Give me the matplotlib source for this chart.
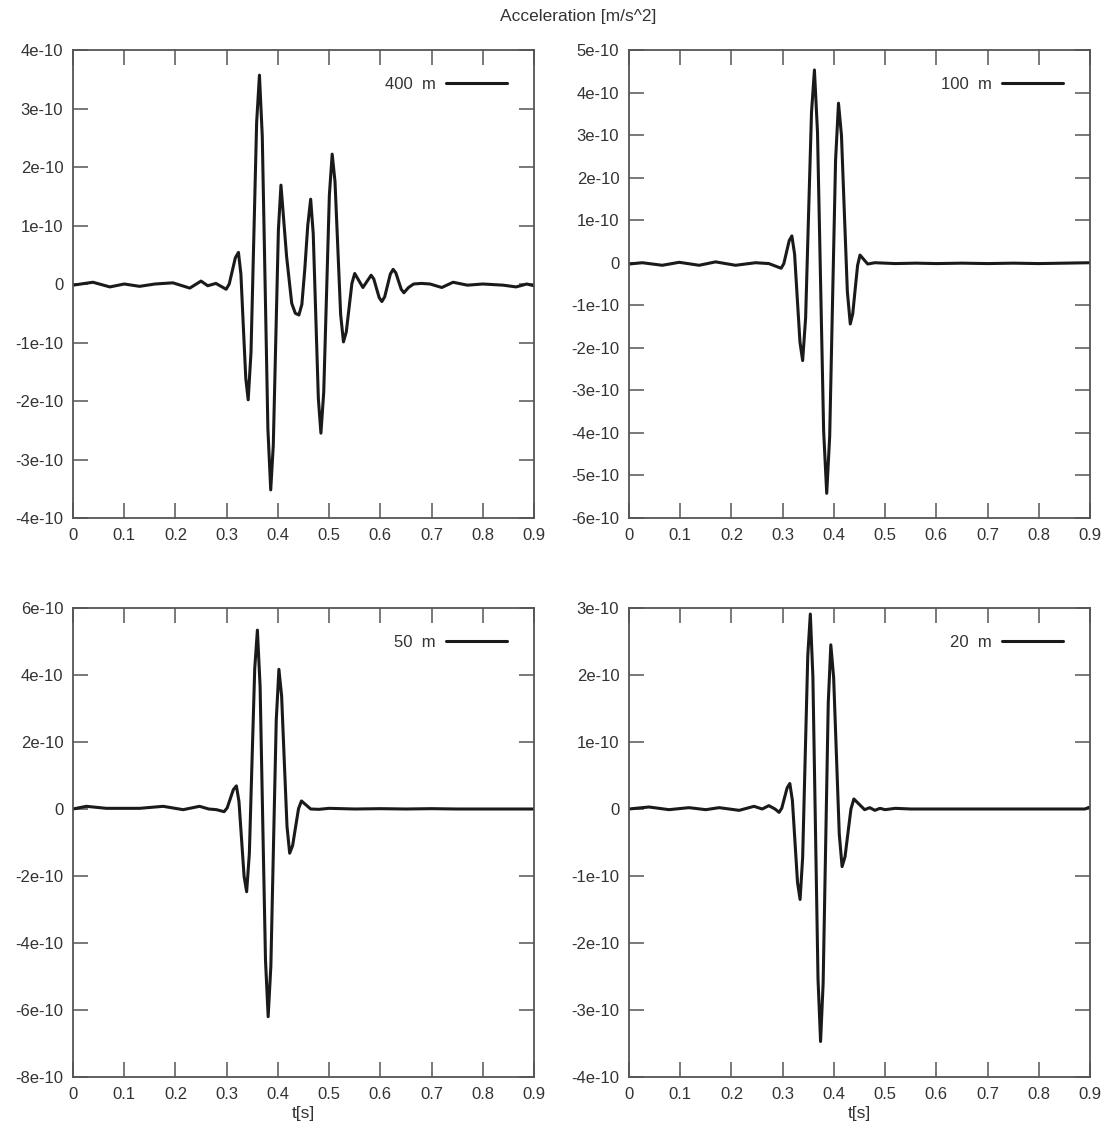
import matplotlib
matplotlib.use("Agg")
import matplotlib.pyplot as plt
from matplotlib.ticker import FuncFormatter, MultipleLocator

plt.rcParams['font.family'] = ['Liberation Sans', 'DejaVu Sans']

# time [s] and acceleration [1e-10 m/s^2] for each receiver depth
t_400 = [0.0, 0.039, 0.072, 0.10, 0.13, 0.16, 0.195, 0.228, 0.25, 0.263, 0.279, 0.299,
         0.305, 0.311, 0.317, 0.323, 0.3278, 0.3325, 0.3373, 0.342, 0.3475, 0.353, 0.3585,
         0.364, 0.3695, 0.375, 0.3805, 0.386, 0.391, 0.396, 0.401, 0.406, 0.417, 0.427,
         0.434, 0.441, 0.4468, 0.4525, 0.4583, 0.464, 0.469, 0.474, 0.479, 0.484, 0.4895,
         0.495, 0.5005, 0.506, 0.5115, 0.517, 0.5225, 0.528, 0.5335, 0.539, 0.5445, 0.55,
         0.558, 0.566, 0.574, 0.582, 0.5873, 0.5925, 0.5978, 0.603, 0.6085, 0.614, 0.6195,
         0.625, 0.6303, 0.6355, 0.6408, 0.646, 0.655, 0.665, 0.68, 0.697, 0.72, 0.742,
         0.77, 0.80, 0.84, 0.865, 0.886, 0.9]
a_400 = [-0.02, 0.03, -0.05, 0.0, -0.04, 0.0, 0.02, -0.07, 0.05, -0.03, 0.01, -0.09,
         0.0, 0.225, 0.45, 0.54, 0.17, -0.72, -1.61, -1.98, -1.17, 0.795, 2.76,
         3.57, 2.53, 0.025, -2.48, -3.52, -2.76, -0.915, 0.93, 1.69, 0.47, -0.33,
         -0.50, -0.53, -0.35, 0.25, 1.0, 1.45, 0.86, -0.55, -1.96, -2.55, -1.85,
         -0.165, 1.52, 2.22, 1.75, 0.615, -0.52, -0.99, -0.82, -0.405, 0.01, 0.18,
         0.06, -0.06, 0.045, 0.15, 0.084, -0.075, -0.234, -0.30, -0.22, -0.025, 0.17,
         0.25, 0.19, 0.05, -0.09, -0.15, -0.06, 0.0, 0.01, 0.0, -0.06, 0.03,
         -0.02, 0.0, -0.02, -0.05, 0.0, -0.03]

t_100 = [0.0, 0.026, 0.065, 0.098, 0.137, 0.169, 0.208, 0.247, 0.273, 0.297,
         0.3023, 0.3075, 0.3128, 0.318, 0.3233, 0.3285, 0.3338, 0.339, 0.3448, 0.3505,
         0.3563, 0.362, 0.368, 0.374, 0.38, 0.386, 0.3918, 0.3975, 0.4033, 0.409,
         0.4148, 0.4205, 0.4263, 0.432, 0.4368, 0.4415, 0.4463, 0.451, 0.4585, 0.466,
         0.48, 0.52, 0.56, 0.60, 0.65, 0.70, 0.75, 0.80, 0.85, 0.9]
a_100 = [-0.03, 0.0, -0.06, 0.01, -0.06, 0.02, -0.06, 0.0, -0.02, -0.13,
         -0.02, 0.25, 0.52, 0.63, 0.20, -0.835, -1.87, -2.30, -1.30, 1.115,
         3.53, 4.53, 3.07, -0.445, -3.96, -5.42, -4.08, -0.835, 2.41, 3.75,
         2.99, 1.155, -0.68, -1.44, -1.20, -0.63, -0.06, 0.18, 0.075, -0.03,
         0.0, -0.02, -0.01, -0.02, -0.01, -0.02, -0.01, -0.02, -0.01, 0.0]

t_50 = [0.0, 0.026, 0.065, 0.13, 0.176, 0.215, 0.247, 0.265, 0.28, 0.295,
        0.301, 0.307, 0.313, 0.319, 0.324, 0.329, 0.334, 0.339, 0.3443, 0.3495,
        0.3548, 0.36, 0.3653, 0.3705, 0.3758, 0.381, 0.3863, 0.3915, 0.3968, 0.402,
        0.4073, 0.4125, 0.4178, 0.423, 0.4288, 0.4345, 0.4403, 0.446, 0.455, 0.464,
        0.48, 0.50, 0.55, 0.60, 0.65, 0.70, 0.75, 0.80, 0.85, 0.9]
a_50 = [0.0, 0.08, 0.02, 0.02, 0.08, -0.02, 0.08, 0.0, -0.02, -0.08,
        0.033, 0.305, 0.577, 0.69, 0.227, -0.89, -2.007, -2.47, -1.326, 1.435,
        4.196, 5.34, 3.65, -0.43, -4.51, -6.2, -4.68, -1.015, 2.65, 4.17,
        3.37, 1.425, -0.52, -1.32, -1.09, -0.54, 0.01, 0.24, 0.12, 0.0,
        -0.01, 0.02, 0.0, 0.01, 0.0, 0.01, 0.0, 0.0, 0.0, 0.0]

t_20 = [0.0, 0.039, 0.078, 0.117, 0.15, 0.176, 0.215, 0.244, 0.26, 0.273, 0.285, 0.293,
        0.2983, 0.3035, 0.3088, 0.314, 0.319, 0.324, 0.329, 0.334, 0.339, 0.344,
        0.349, 0.354, 0.359, 0.364, 0.369, 0.374, 0.379, 0.384, 0.389, 0.394,
        0.3995, 0.405, 0.4105, 0.416, 0.4218, 0.4275, 0.4333, 0.439, 0.4495, 0.46,
        0.47, 0.48, 0.49, 0.50, 0.52, 0.55, 0.60, 0.65, 0.70, 0.75, 0.80, 0.85, 0.89, 0.9]
a_20 = [0.0, 0.03, -0.01, 0.02, -0.01, 0.02, -0.02, 0.04, 0.0, 0.05, 0.0, -0.05,
        0.013, 0.165, 0.317, 0.38, 0.127, -0.485, -1.097, -1.35, -0.726, 0.78,
        2.286, 2.91, 1.975, -0.28, -2.535, -3.47, -2.603, -0.51, 1.583, 2.45,
        1.965, 0.795, -0.375, -0.86, -0.71, -0.355, 0.0, 0.15, 0.07, -0.01,
        0.02, -0.02, 0.01, -0.01, 0.01, 0.0, 0.0, 0.0, 0.0, 0.0, 0.0, 0.0, 0.0, 0.03]

labels = ["400  m", "100  m", "50  m", "20  m"]
ylims = [(-4, 4), (-6, 5), (-8, 6), (-4, 3)]
ysteps = [1, 1, 2, 1]

fig = plt.figure(figsize=(11.10, 11.31), dpi=100)
W, H = 1110, 1131
# panel frames in pixels: left, top, right, bottom
boxes = [(73, 50, 534, 518), (629, 50, 1090, 518),
         (73, 608, 534, 1077), (629, 608, 1090, 1077)]
series = [(t_400, a_400), (t_100, a_100), (t_50, a_50), (t_20, a_20)]

frame_col = "#555555"
text_col = "#333333"


def fmt(v, pos):
    k = round(v * 1e10)
    return "0" if k == 0 else f"{k}e-10"


for i, ((x0, y0, x1, y1), (t, a)) in enumerate(zip(boxes, series)):
    ax = fig.add_axes([x0 / W, 1 - y1 / H, (x1 - x0) / W, (y1 - y0) / H])
    ax.plot(t, [v * 1e-10 for v in a], color="#1a1a1a", lw=2.2, label=labels[i],
            solid_joinstyle="round", solid_capstyle="round")
    ax.set_xlim(0, 0.9)
    ax.set_ylim(ylims[i][0] * 1e-10, ylims[i][1] * 1e-10)
    ax.xaxis.set_major_locator(MultipleLocator(0.1))
    ax.yaxis.set_major_locator(MultipleLocator(ysteps[i] * 1e-10))
    ax.yaxis.set_major_formatter(FuncFormatter(fmt))
    ax.xaxis.set_major_formatter(FuncFormatter(lambda v, p: "0" if abs(v) < 1e-9 else f"{v:.1f}"))
    ax.xaxis.offsetText.set_visible(False)
    ax.yaxis.offsetText.set_visible(False)
    ax.tick_params(direction="in", length=10.5, width=1.1, colors=frame_col,
                   top=True, right=True, labelsize=12, labelcolor=text_col, pad=7)
    for s in ax.spines.values():
        s.set_color(frame_col)
        s.set_linewidth(1.3)
    ax.legend(loc="upper right", markerfirst=False, frameon=False, fontsize=12,
              handlelength=3.7, borderaxespad=1.2, handletextpad=0.6,
              labelcolor=text_col)
    if i >= 2:
        ax.set_xlabel("t[s]", fontsize=12.5, color=text_col, labelpad=3)

fig.text(578 / W, 1 - 17 / H, "Acceleration [m/s^2]", ha="center", va="center",
         fontsize=12.5, color=text_col)

fig.savefig("out.png", dpi=100)
